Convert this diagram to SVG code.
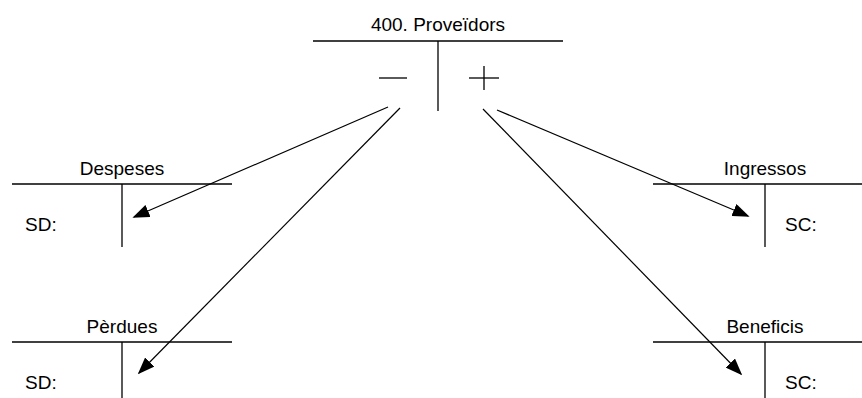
<svg xmlns="http://www.w3.org/2000/svg" width="862" height="398" viewBox="0 0 862 398">
  <style>
    .ln { stroke: #000; stroke-width: 1.3; fill: none; }
    .tx { font-family: "Liberation Sans", Arial, sans-serif; font-size: 19px; fill: #000; }
    .mid { text-anchor: middle; }
    .arr { stroke: #000; stroke-width: 1.2; fill: none; marker-end: url(#head); }
  </style>
  <defs>
    <marker id="head" viewBox="0 0 10 10" refX="9" refY="5" markerWidth="17" markerHeight="13" markerUnits="userSpaceOnUse" orient="auto" preserveAspectRatio="none">
      <path d="M0,0 L10,5 L0,10 Z" fill="#000"/>
    </marker>
  </defs>

  <rect width="862" height="398" fill="#fff"/>

  <!-- Supplier T-account -->
  <g id="proveidors">
    <text class="tx mid" x="438" y="31">400. Proveïdors</text>
    <line class="ln" x1="313" y1="41" x2="563" y2="41"/>
    <line class="ln" x1="438" y1="41" x2="438" y2="111"/>
    <line class="ln" x1="379" y1="78" x2="407" y2="78"/>
    <line class="ln" x1="469" y1="78" x2="499" y2="78"/>
    <line class="ln" x1="484" y1="66" x2="484" y2="90"/>
  </g>

  <!-- Expenses -->
  <g id="despeses">
    <text class="tx mid" x="122" y="175">Despeses</text>
    <line class="ln" x1="12" y1="184" x2="232" y2="184"/>
    <line class="ln" x1="122" y1="184" x2="122" y2="247"/>
    <text class="tx" x="25" y="231">SD:</text>
  </g>

  <!-- Losses -->
  <g id="perdues">
    <text class="tx mid" x="122" y="333">Pèrdues</text>
    <line class="ln" x1="12" y1="342" x2="232" y2="342"/>
    <line class="ln" x1="122" y1="342" x2="122" y2="398"/>
    <text class="tx" x="25" y="389">SD:</text>
  </g>

  <!-- Income -->
  <g id="ingressos">
    <text class="tx mid" x="765" y="175">Ingressos</text>
    <line class="ln" x1="653" y1="184" x2="862" y2="184"/>
    <line class="ln" x1="765" y1="184" x2="765" y2="247"/>
    <text class="tx" x="785" y="231">SC:</text>
  </g>

  <!-- Profits -->
  <g id="beneficis">
    <text class="tx mid" x="765" y="333">Beneficis</text>
    <line class="ln" x1="653" y1="342" x2="862" y2="342"/>
    <line class="ln" x1="765" y1="342" x2="765" y2="398"/>
    <text class="tx" x="785" y="389">SC:</text>
  </g>

  <!-- Connectors -->
  <g id="connectors">
    <line class="arr" x1="388" y1="107" x2="134" y2="217"/>
    <line class="arr" x1="400" y1="108" x2="139" y2="373"/>
    <line class="arr" x1="497" y1="110" x2="748" y2="216"/>
    <line class="arr" x1="483" y1="109" x2="741" y2="374"/>
  </g>
</svg>
